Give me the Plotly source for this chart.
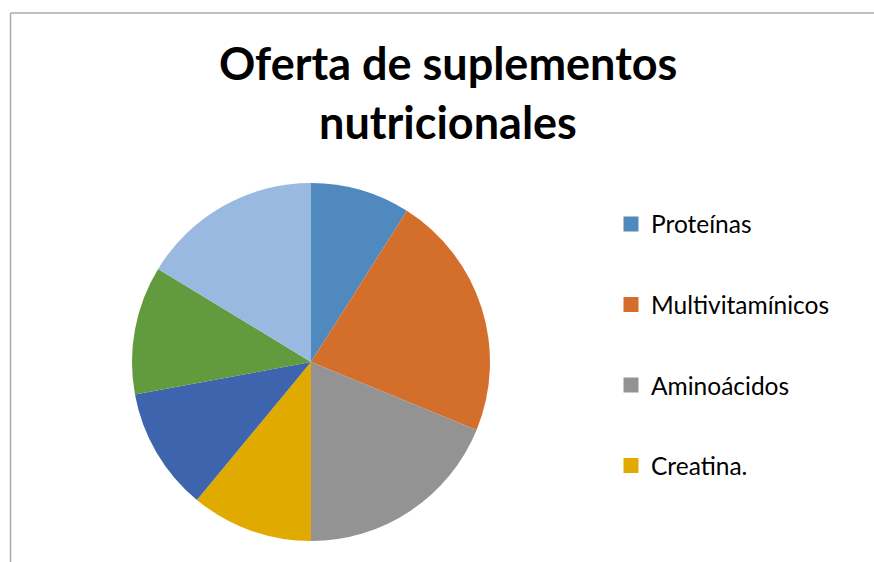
import plotly.graph_objects as go

# ---- data ----
slice_labels = ["Proteínas", "Multivitamínicos", "Aminoácidos", "Creatina.",
                "Serie 5", "Serie 6", "Serie 7"]
slice_values = [9.0, 22.2, 18.8, 11.0, 11.1, 11.6, 16.3]
slice_colors = ["#4F89BD", "#D46F2B", "#939393", "#E1AA00",
                "#3D64AD", "#629A3E", "#99B9E0"]
legend_labels = ["Proteínas", "Multivitamínicos", "Aminoácidos", "Creatina."]
title_lines = ["Oferta de suplementos", "nutricionales"]

W, H = 874, 562
FONT = "Lato"

fig = go.Figure()

# pie: center (311, 362), radius 179 px
cx, cy, r = 311, 362, 179
fig.add_trace(go.Pie(
    labels=slice_labels,
    values=slice_values,
    marker=dict(colors=slice_colors, line=dict(width=0)),
    sort=False,
    direction="clockwise",
    rotation=0,
    textinfo="none",
    hoverinfo="label+percent",
    showlegend=False,
    domain=dict(x=[(cx - r) / W, (cx + r) / W],
                y=[(H - cy - r) / H, (H - cy + r) / H]),
))

# legend entries (only the first four are shown in the original)
for i, lab in enumerate(legend_labels):
    fig.add_trace(go.Scatter(
        x=[None], y=[None], mode="markers", name=lab,
        legendgroup=f"g{i}",
        marker=dict(symbol="square", size=15, color=slice_colors[i]),
    ))

border = dict(color="#ABABAB", width=1.5)
fig.update_layout(
    width=W, height=H,
    margin=dict(l=0, r=0, t=0, b=0),
    paper_bgcolor="white",
    plot_bgcolor="white",
    xaxis=dict(visible=False),
    yaxis=dict(visible=False),
    showlegend=True,
    legend=dict(
        x=611 / W, y=1 - 201.5 / H, xanchor="left", yanchor="top",
        font=dict(family=FONT, size=24.5, color="#000000"),
        tracegroupgap=45.7,
        bgcolor="rgba(0,0,0,0)",
        itemclick=False, itemdoubleclick=False,
    ),
    shapes=[
        dict(type="line", xref="paper", yref="paper",
             x0=10.5 / W, x1=1.0, y0=1 - 13 / H, y1=1 - 13 / H,
             line=border, layer="below"),
        dict(type="line", xref="paper", yref="paper",
             x0=10.5 / W, x1=10.5 / W, y0=0.0, y1=1 - 13 / H,
             line=border, layer="below"),
    ],
    annotations=[
        dict(text=f"<b>{title_lines[0]}</b>", x=448 / W, y=1 - 92 / H,
             xref="paper", yref="paper", xanchor="center", yanchor="bottom",
             showarrow=False, font=dict(family=FONT, size=45, color="#000000")),
        dict(text=f"<b>{title_lines[1]}</b>", x=448 / W, y=1 - 151 / H,
             xref="paper", yref="paper", xanchor="center", yanchor="bottom",
             showarrow=False, font=dict(family=FONT, size=45, color="#000000")),
    ],
)

fig.write_html("out.html",
               config={"displayModeBar": False},
               post_script="document.body.style.margin='0';"
                           "document.body.style.overflow='hidden';")
